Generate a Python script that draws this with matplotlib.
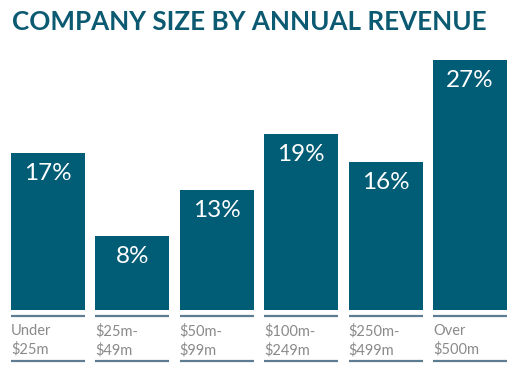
import matplotlib
matplotlib.use("Agg")
import matplotlib.pyplot as plt
import matplotlib.transforms as mtransforms

categories = ["Under\n$25m", "$25m-\n$49m", "$50m-\n$99m", "$100m-\n$249m", "$250m-\n$499m", "Over\n$500m"]
values = [17, 8, 13, 19, 16, 27]
value_labels = ["17%", "8%", "13%", "19%", "16%", "27%"]

W, H = 524, 376
fig = plt.figure(figsize=(W / 100, H / 100), dpi=100)
bar_color = "#015c76"
title_color = "#0b5a72"

left_px, right_px = 11, 507
top_px, bottom_px = 60, 310
ax = fig.add_axes([left_px / W, (H - bottom_px) / H, (right_px - left_px) / W, (bottom_px - top_px) / H])
bw = 74 / 84.4
x = list(range(len(values)))
ax.bar(x, values, width=bw, color=bar_color)
ax.set_xlim(-bw / 2, len(values) - 1 + bw / 2)
ax.set_ylim(0, 27)
ax.axis("off")

ax_h = bottom_px - top_px
trans = mtransforms.blended_transform_factory(ax.transData, ax.transAxes)
for xi, v, lab, cat in zip(x, values, value_labels, categories):
    ax.text(xi, v - 10 / (ax_h / 27), lab, ha="center", va="top", color="white",
            fontsize=17.5, family="Lato", fontweight="normal")
    for ypx in (316, 361):
        yf = -(ypx - bottom_px) / ax_h
        ax.plot([xi - bw / 2, xi + bw / 2], [yf, yf], transform=trans, color="#5e7c92",
                lw=1.6, clip_on=False, solid_capstyle="butt")
    ax.text(xi - bw / 2, -(324 - bottom_px) / ax_h, cat, transform=trans, ha="left", va="top",
            color="#8a8a8a", fontsize=10.5, family="Lato", linespacing=1.35)

fig.text(12 / W, 1 - 22 / H, "COMPANY SIZE BY ANNUAL REVENUE", ha="left", va="center",
         fontsize=18.7, fontweight="bold", color=title_color, family="Lato")

fig.savefig("out.png", dpi=100, facecolor="white")
